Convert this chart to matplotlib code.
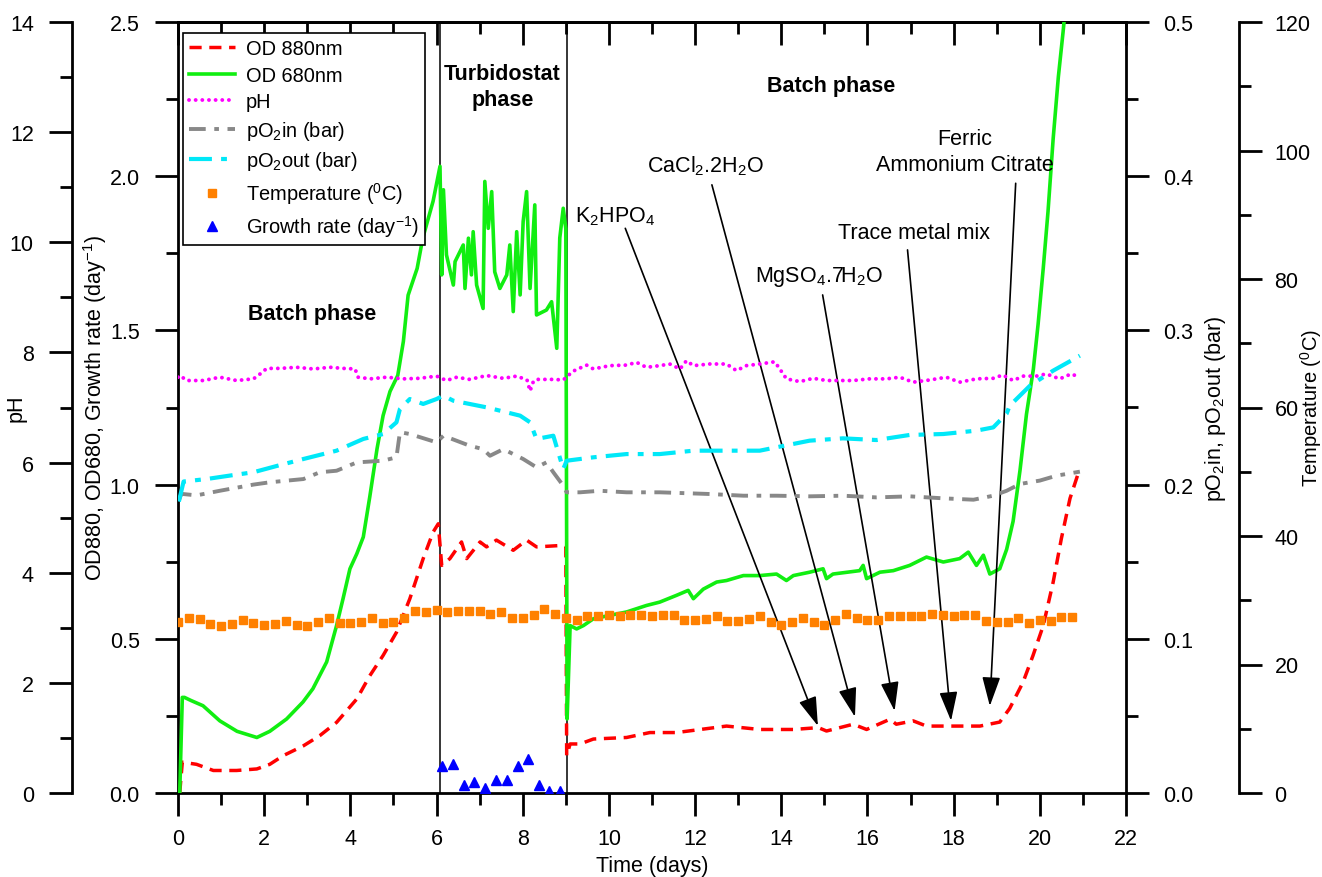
import matplotlib
matplotlib.use('Agg')
import matplotlib.pyplot as plt
from matplotlib.ticker import MultipleLocator, FormatStrFormatter

plt.rcParams['font.family'] = ['Liberation Sans', 'DejaVu Sans']
plt.rcParams['mathtext.fontset'] = 'custom'
plt.rcParams['mathtext.rm'] = 'Liberation Sans'
plt.rcParams['mathtext.it'] = 'Liberation Sans:italic'
plt.rcParams['mathtext.bf'] = 'Liberation Sans:bold'

# ---------------- data ----------------
od680_t = [0.0, 0.04, 0.10, 0.15, 0.30, 0.58, 0.97, 1.37, 1.60, 1.83, 2.13, 2.52, 2.90, 3.13,
           3.45, 3.68, 3.83, 3.99, 4.15, 4.30, 4.45, 4.62, 4.76, 4.92, 5.10, 5.23, 5.34, 5.55,
           5.68, 5.92, 6.08, 6.12, 6.16, 6.23, 6.39, 6.43, 6.62, 6.66, 6.74, 6.81, 6.85, 6.93,
           7.08, 7.12, 7.20, 7.28, 7.35, 7.47, 7.63, 7.70, 7.78, 7.86, 7.94, 8.01, 8.09, 8.17,
           8.28, 8.32, 8.55, 8.67, 8.79, 8.86, 8.94, 9.00, 9.03, 9.10, 9.25, 9.41, 9.64, 10.02,
           10.41, 10.87, 11.18, 11.57, 11.84, 11.96, 12.19, 12.50, 12.73, 13.12, 13.50, 13.89,
           14.12, 14.28, 14.66, 14.97, 15.05, 15.20, 15.82, 15.90, 15.98, 16.29, 16.60, 16.98,
           17.37, 17.76, 18.14, 18.34, 18.53, 18.69, 18.84, 19.07, 19.23, 19.38, 19.54, 19.69,
           19.85, 19.96, 20.08, 20.19, 20.31, 20.43, 20.54, 20.70]
od680_v = [0.0, 0.0, 0.31, 0.31, 0.30, 0.283, 0.234, 0.20, 0.19, 0.18, 0.20, 0.24, 0.295, 0.338,
           0.425, 0.543, 0.63, 0.727, 0.776, 0.83, 0.96, 1.117, 1.224, 1.302, 1.354, 1.464, 1.614, 1.701,
           1.799, 1.919, 2.032, 1.68, 1.956, 1.745, 1.647, 1.723, 1.777, 1.636, 1.799, 1.68, 1.82, 1.647,
           1.571, 1.983, 1.831, 1.95, 1.69, 1.636, 1.68, 1.777, 1.561, 1.82, 1.615, 1.853, 1.95, 1.636,
           1.907, 1.55, 1.566, 1.593, 1.442, 1.80, 1.896, 1.83, 0.24, 0.543, 0.532, 0.543, 0.565, 0.576,
           0.587, 0.608, 0.619, 0.641, 0.657, 0.63, 0.661, 0.684, 0.689, 0.705, 0.705, 0.71,
           0.689, 0.705, 0.716, 0.727, 0.695, 0.71, 0.721, 0.738, 0.695, 0.716, 0.721, 0.738,
           0.765, 0.749, 0.76, 0.781, 0.738, 0.771, 0.71, 0.727, 0.79, 0.881, 1.046, 1.228,
           1.374, 1.52, 1.702, 1.885, 2.122, 2.322, 2.468, 2.70]

od880_t = [0.04, 0.10, 0.43, 0.82, 1.36, 1.83, 2.13, 2.44, 2.91, 3.29, 3.68, 4.15, 4.45, 4.76,
           5.07, 5.38, 5.69, 5.92, 6.04, 6.12, 6.31, 6.58, 6.70, 7.01, 7.16, 7.39, 7.78, 8.09,
           8.32, 8.94, 9.00, 9.02, 9.10, 9.33, 9.64, 10.41, 10.95, 11.57, 12.73, 13.50, 14.28,
           14.86, 15.05, 15.67, 15.98, 16.52, 16.67, 17.06, 17.37, 17.92, 18.61, 19.07, 19.30,
           19.61, 19.84, 20.08, 20.31, 20.50, 20.70, 20.90]
od880_v = [0.0, 0.10, 0.093, 0.073, 0.073, 0.078, 0.093, 0.121, 0.153, 0.186, 0.229, 0.305, 0.38, 0.446,
           0.521, 0.63, 0.76, 0.846, 0.873, 0.738, 0.76, 0.814, 0.76, 0.814, 0.798, 0.82, 0.787, 0.82,
           0.798, 0.803, 0.80, 0.121, 0.159, 0.159, 0.175, 0.18, 0.196, 0.196, 0.217, 0.206, 0.206,
           0.212, 0.201, 0.223, 0.206, 0.239, 0.223, 0.234, 0.217, 0.217, 0.217, 0.23, 0.274,
           0.359, 0.445, 0.543, 0.684, 0.825, 0.955, 1.04]

ph_t = [0.0, 0.05, 0.20, 0.59, 0.97, 1.36, 1.75, 1.86, 2.06, 2.37, 2.75, 3.14, 3.53, 3.84, 4.11,
        4.18, 4.46, 4.84, 5.23, 5.61, 6.00, 6.23, 6.47, 6.77, 7.16, 7.55, 7.86, 8.10, 8.17, 8.25,
        8.32, 8.71, 8.94, 9.17, 9.48, 9.64, 10.02, 10.41, 10.64, 10.87, 11.18, 11.41, 11.65, 11.80,
        11.96, 12.34, 12.73, 12.96, 13.19, 13.50, 13.85, 14.00, 14.12, 14.43, 14.74, 15.05, 15.28,
        15.67, 16.05, 16.44, 16.75, 17.06, 17.45, 17.83, 18.14, 18.53, 18.92, 19.14, 19.38, 19.62,
        19.92, 20.15, 20.46, 20.73, 20.92]
ph_v = [7.55, 7.58, 7.49, 7.49, 7.55, 7.49, 7.52, 7.58, 7.71, 7.71, 7.73, 7.70, 7.73, 7.71, 7.70,
        7.55, 7.52, 7.55, 7.52, 7.53, 7.57, 7.49, 7.55, 7.51, 7.58, 7.53, 7.57, 7.50, 7.30, 7.48,
        7.51, 7.51, 7.50, 7.66, 7.77, 7.70, 7.76, 7.77, 7.82, 7.73, 7.76, 7.79, 7.70, 7.85,
        7.76, 7.79, 7.79, 7.67, 7.76, 7.79, 7.83, 7.66, 7.52, 7.47, 7.53, 7.49, 7.49,
        7.49, 7.52, 7.52, 7.55, 7.46, 7.50, 7.55, 7.46, 7.52, 7.53, 7.59, 7.49, 7.57,
        7.57, 7.61, 7.52, 7.61, 7.55]

po2in_t = [0.02, 0.08, 0.43, 0.97, 1.75, 2.13, 2.91, 3.29, 3.68, 4.15, 4.76, 5.07, 5.15, 5.38,
           6.00, 6.16, 6.77, 7.08, 7.24, 7.55, 8.01, 8.32, 8.55, 8.71, 8.94, 9.02, 9.33, 9.79,
           10.41, 11.18, 12.34, 13.12, 13.89, 14.66, 15.43, 16.21, 16.98, 17.76, 18.46, 18.92,
           19.23, 19.54, 20.00, 20.39, 20.93]
po2in_v = [0.190, 0.194, 0.193, 0.196, 0.200, 0.2015, 0.2036, 0.208, 0.209, 0.2144, 0.2155, 0.2177,
           0.234, 0.2328, 0.2274, 0.2317, 0.2252, 0.223, 0.2187, 0.223, 0.2166, 0.2112, 0.2144,
           0.208, 0.1993, 0.195, 0.195, 0.196, 0.195, 0.195, 0.1939, 0.1928, 0.1928, 0.1924,
           0.1928, 0.1917, 0.1924, 0.1911, 0.1902, 0.1928, 0.196, 0.2004, 0.2026, 0.2058, 0.2084]

po2out_t = [0.02, 0.13, 0.66, 1.24, 1.75, 2.28, 2.91, 3.68, 4.30, 4.76, 5.07, 5.15, 5.38, 5.69,
            6.00, 6.16, 6.39, 7.16, 7.94, 8.17, 8.32, 8.71, 8.94, 9.02, 9.64, 10.41, 11.18, 11.96,
            12.73, 13.50, 13.89, 14.66, 15.43, 16.21, 16.98, 17.76, 18.53, 18.92, 19.23, 19.30,
            19.77, 20.31, 20.93]
po2out_v = [0.189, 0.202, 0.2036, 0.206, 0.208, 0.212, 0.2166, 0.222, 0.2296, 0.2328, 0.2404, 0.249,
            0.2555, 0.2523, 0.2555, 0.2577, 0.2544, 0.2501, 0.2447, 0.2404, 0.2296, 0.2317, 0.2101,
            0.2155, 0.2177, 0.2198, 0.2198, 0.222, 0.222, 0.222, 0.2242, 0.2285, 0.230, 0.2289,
            0.2322, 0.2328, 0.235, 0.2371, 0.246, 0.2511, 0.2641, 0.2739, 0.2836]

temp_t = [0.0, 0.25, 0.5, 0.75, 1.0, 1.25, 1.5, 1.75, 2.0, 2.25, 2.5, 2.75, 3.0, 3.25, 3.5, 3.75,
          4.0, 4.25, 4.5, 4.75, 5.0, 5.25, 5.5, 5.75, 6.0, 6.25, 6.5, 6.75, 7.0, 7.25, 7.5, 7.75,
          8.0, 8.25, 8.5, 8.75, 9.0, 9.25, 9.5, 9.75, 10.0, 10.25, 10.5, 10.75, 11.0, 11.25, 11.5,
          11.75, 12.0, 12.25, 12.5, 12.75, 13.0, 13.25, 13.5, 13.75, 14.0, 14.25, 14.5, 14.75,
          15.0, 15.25, 15.5, 15.75, 16.0, 16.25, 16.5, 16.75, 17.0, 17.25, 17.5, 17.75, 18.0,
          18.25, 18.5, 18.75, 19.0, 19.25, 19.5, 19.75, 20.0, 20.25, 20.5, 20.75]
temp_v = [26.67, 27.24, 27.08, 26.3, 26.04, 26.3, 26.98, 26.4, 26.15, 26.25, 26.77, 26.2, 26.04,
          26.56, 27.24, 26.46, 26.51, 26.56, 27.19, 26.4, 26.56, 27.29, 28.33, 28.22, 28.53, 28.12,
          28.38, 28.38, 28.38, 27.91, 28.22, 27.29, 27.29, 27.7, 28.64, 27.86, 27.2, 26.9, 27.5,
          27.6, 27.7, 27.5, 27.7, 27.7, 27.6, 27.7, 27.7, 26.98, 26.98, 27.08, 27.5, 26.82, 26.82,
          27.08, 27.5, 26.56, 26.15, 26.67, 27.19, 26.56, 26.15, 26.98, 27.86, 27.19, 26.98, 26.98,
          27.5, 27.6, 27.6, 27.5, 27.81, 27.7, 27.6, 27.7, 27.7, 26.8, 26.67, 26.56, 27.19, 26.46,
          26.98, 26.82, 27.34, 27.34]

growth_t = [6.12, 6.38, 6.63, 6.87, 7.12, 7.37, 7.63, 7.88, 8.13, 8.38, 8.62, 8.87]
growth_v = [0.089, 0.094, 0.026, 0.036, 0.015, 0.041, 0.041, 0.089, 0.11, 0.026, 0.008, 0.008]

phase_bounds = [6.08, 9.03]

phase_labels = ['Batch phase', 'Turbidostat\nphase', 'Batch phase']
phase_pos = [(3.11, 1.555), (7.53, 2.29), (15.15, 2.295)]

nutrient_labels = ['K$_2$HPO$_4$', 'CaCl$_2$.2H$_2$O', 'MgSO$_4$.7H$_2$O',
                   'Trace metal mix', 'Ferric\nAmmonium Citrate']
nutrient_text_pos = [(10.14, 1.873), (12.25, 2.036), (14.88, 1.675), (17.08, 1.818), (18.26, 2.08)]
nutrient_arrow_start = [(10.38, 1.831), (12.39, 1.972), (14.96, 1.615), (16.93, 1.761), (19.44, 1.977)]
nutrient_arrow_tip = [(14.85, 0.2175), (15.71, 0.247), (16.63, 0.266), (17.94, 0.234), (18.84, 0.282)]

# ---------------- figure ----------------
W, H = 1322, 878
fig = plt.figure(figsize=(W / 100, H / 100), dpi=100)
ax = fig.add_axes([178 / W, 1 - 794 / H, 948 / W, 771 / H])

FS = 15.5      # tick labels / axis labels
LFS = 14.4     # legend
AFS = 15.5     # annotations
SPW = 2.0
MAJ, MIN = 16.5, 8.5

col_red = '#FF0000'
col_green = '#11EE11'
col_mag = '#FF00FF'
col_gray = '#888888'
col_cyan = '#00E8F8'
col_orange = '#FF8000'
col_blue = '#0000FF'

# main axis (OD)
l_red, = ax.plot(od880_t, od880_v, color=col_red, lw=2.5, ls=(0, (3.5, 2.2)), label='OD 880nm', zorder=3)
l_green, = ax.plot(od680_t, od680_v, color=col_green, lw=2.6, label='OD 680nm', zorder=4)
l_growth, = ax.plot(growth_t, growth_v, ls='none', marker='^', ms=7.5, color=col_blue,
                    label='Growth rate (day$^{-1}$)', zorder=5)
ax.vlines(phase_bounds, 0, 2.5, colors='black', lw=1.1, zorder=2)

ax.set_xlim(0, 22)
ax.set_ylim(0, 2.5)
ax.xaxis.set_major_locator(MultipleLocator(2))
ax.xaxis.set_minor_locator(MultipleLocator(1))
ax.yaxis.set_major_locator(MultipleLocator(0.5))
ax.yaxis.set_minor_locator(MultipleLocator(0.25))
ax.yaxis.set_major_formatter(FormatStrFormatter('%.1f'))
ax.tick_params(axis='both', which='both', direction='out', width=SPW, labelsize=FS)
ax.tick_params(axis='both', which='major', length=MAJ)
ax.tick_params(axis='both', which='minor', length=MIN)
ax.tick_params(axis='x', which='major', pad=9)
ax.tick_params(axis='y', which='major', pad=11)
for s in ['left', 'bottom', 'top']:
    ax.spines[s].set_linewidth(SPW)
ax.spines['right'].set_visible(False)
ax.set_xlabel('Time (days)', fontsize=FS)
ax.xaxis.set_label_coords(0.5, -0.080)
ax.set_ylabel('OD880, OD680, Growth rate (day$^{-1}$)', fontsize=FS)
ax.yaxis.set_label_coords(-0.0725, 0.5)

secx = ax.secondary_xaxis('top')
secx.xaxis.set_major_locator(MultipleLocator(2))
secx.xaxis.set_minor_locator(MultipleLocator(1))
secx.tick_params(axis='x', which='both', direction='in', width=SPW, labeltop=False)
secx.tick_params(axis='x', which='major', length=MAJ)
secx.tick_params(axis='x', which='minor', length=MIN)
secx.spines['top'].set_linewidth(SPW)

# pH axis (outer left)
ax_ph = ax.twinx()
ax_ph.spines['left'].set_position(('axes', -106 / 948))
ax_ph.spines['left'].set_visible(True)
ax_ph.spines['left'].set_linewidth(SPW)
for s in ['right', 'top', 'bottom']:
    ax_ph.spines[s].set_visible(False)
ax_ph.yaxis.set_ticks_position('left')
ax_ph.yaxis.set_label_position('left')
l_ph, = ax_ph.plot(ph_t, ph_v, color=col_mag, lw=2.8, ls=(0, (0.01, 1.7)),
                   dash_capstyle='round', label='pH')
ax_ph.set_ylim(0, 14)
ax_ph.yaxis.set_major_locator(MultipleLocator(2))
ax_ph.yaxis.set_minor_locator(MultipleLocator(1))
ax_ph.tick_params(axis='y', which='both', direction='out', width=SPW, labelsize=FS)
ax_ph.tick_params(axis='y', which='major', length=MAJ, pad=11)
ax_ph.tick_params(axis='y', which='minor', length=MIN)
ax_ph.set_ylabel('pH', fontsize=FS)
ax_ph.yaxis.set_label_coords(-0.160, 0.5)

# pO2 axis (inner right)
ax_po = ax.twinx()
for s in ['left', 'top', 'bottom']:
    ax_po.spines[s].set_visible(False)
ax_po.spines['right'].set_linewidth(SPW)
l_pin, = ax_po.plot(po2in_t, po2in_v, color=col_gray, lw=2.8, ls=(0, (4.3, 2.2, 1.2, 2.2)),
                    label='pO$_2$in (bar)')
l_pout, = ax_po.plot(po2out_t, po2out_v, color=col_cyan, lw=3.0, ls=(0, (5.5, 2.2, 1.4, 2.2)),
                     label='pO$_2$out (bar)')
ax_po.set_ylim(0, 0.5)
ax_po.yaxis.set_major_locator(MultipleLocator(0.1))
ax_po.yaxis.set_minor_locator(MultipleLocator(0.05))
ax_po.yaxis.set_major_formatter(FormatStrFormatter('%.1f'))
ax_po.tick_params(axis='y', which='both', direction='out', width=SPW, labelsize=FS)
ax_po.tick_params(axis='y', which='major', length=MAJ, pad=10)
ax_po.tick_params(axis='y', which='minor', length=MIN)
ax_po.set_ylabel('pO$_2$in, pO$_2$out (bar)', fontsize=FS)
ax_po.yaxis.set_label_coords(1.0815, 0.5)

# Temperature axis (outer right)
ax_t = ax.twinx()
ax_t.spines['right'].set_position(('axes', (1239 - 178) / 948))
ax_t.spines['right'].set_linewidth(SPW)
for s in ['left', 'top', 'bottom']:
    ax_t.spines[s].set_visible(False)
l_temp, = ax_t.plot(temp_t, temp_v, ls='none', marker='s', ms=6, color=col_orange,
                    label='Temperature ($^0$C)')
ax_t.set_ylim(0, 120)
ax_t.yaxis.set_major_locator(MultipleLocator(20))
ax_t.yaxis.set_minor_locator(MultipleLocator(10))
ax_t.tick_params(axis='y', which='both', direction='out', width=SPW, labelsize=FS)
ax_t.tick_params(axis='y', which='major', length=MAJ, pad=9)
ax_t.tick_params(axis='y', which='minor', length=MIN)
ax_t.set_ylabel('Temperature ($^0$C)', fontsize=14.5)
ax_t.yaxis.set_label_coords(1.1815, 0.5)

# phase labels and nutrient annotations
for lab, (x, y) in zip(phase_labels, phase_pos):
    ax.text(x, y, lab, ha='center', va='center', fontsize=AFS, fontweight='bold',
            multialignment='center', zorder=6, linespacing=1.3)
for lab, tp, st, tip in zip(nutrient_labels, nutrient_text_pos, nutrient_arrow_start, nutrient_arrow_tip):
    ax.text(tp[0], tp[1], lab, ha='center', va='center', fontsize=AFS, multialignment='center',
            zorder=6, linespacing=1.3)
    ax.annotate('', xy=tip, xytext=st,
                arrowprops=dict(arrowstyle='-|>,head_length=0.9,head_width=0.28', color='black',
                                lw=1.2, shrinkA=0, shrinkB=0, mutation_scale=20), zorder=6)

handles = [l_red, l_green, l_ph, l_pin, l_pout, l_temp, l_growth]
leg = ax_t.legend(handles=handles, loc='upper left',
                  bbox_to_anchor=(5 / 948, (794 - 34) / 771), bbox_transform=ax.transAxes,
                  borderaxespad=0, fontsize=LFS, handlelength=2.3, handletextpad=0.55,
                  borderpad=0.3, labelspacing=0.38, fancybox=False, framealpha=1,
                  edgecolor='black', numpoints=1)
leg.get_frame().set_linewidth(1.2)

fig.savefig('out.png', dpi=100)
